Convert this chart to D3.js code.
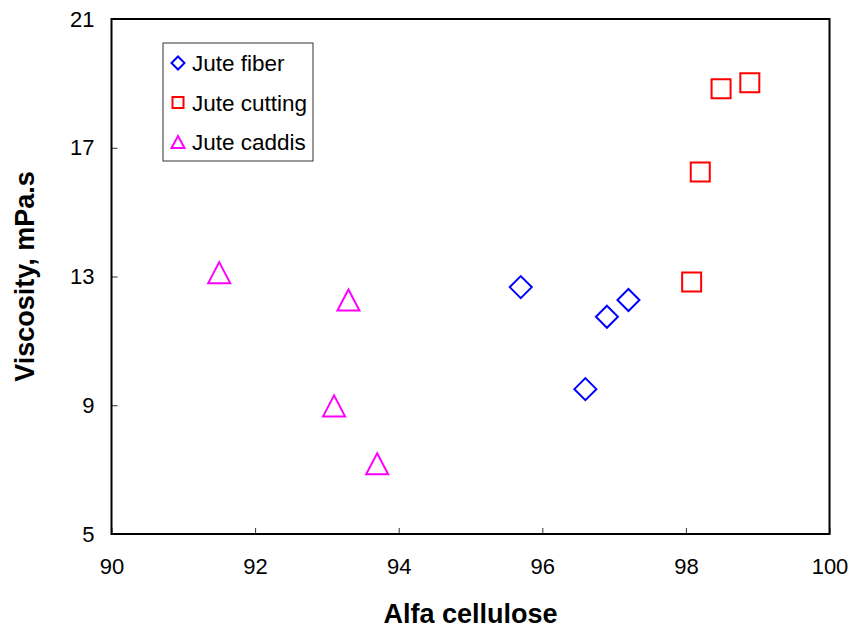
<!DOCTYPE html>
<html>
<head>
<meta charset="utf-8">
<script src="https://cdn.jsdelivr.net/npm/d3@7"></script>
<style>
  body { margin: 0; background: #fff; }
  text { font-family: "Liberation Sans", Arial, sans-serif; }
</style>
</head>
<body>
<div id="chart"></div>
<script>
// series data
var fiberX = [95.7, 96.6, 96.9, 97.2];
var fiberY = [12.67, 9.5, 11.75, 12.27];
var cuttingX = [98.08, 98.2, 98.49, 98.89];
var cuttingY = [12.83, 16.25, 18.83, 19.02];
var caddisX = [91.5, 93.1, 93.3, 93.7];
var caddisY = [13.12, 8.98, 12.27, 7.18];

var xTicks = [90, 92, 94, 96, 98, 100];
var yTicks = [5, 9, 13, 17, 21];

var seriesNames = ["Jute fiber", "Jute cutting", "Jute caddis"];

var W = 854, H = 631;
var margin = {top: 19, right: 24.5, bottom: 97, left: 111.5};
var width = W - margin.left - margin.right,
	height = H - margin.top - margin.bottom;

var svg = d3.select("#chart").append("svg")
	.attr("width", W)
	.attr("height", H);

var g = svg.append("g")
	.attr("transform", "translate(" + margin.left + "," + margin.top + ")");

var xScale = d3.scaleLinear().domain([90, 100]).range([0, width]);
var yScale = d3.scaleLinear().domain([5, 21]).range([height, 0]);

// marker paths, centred on 0,0
function diamond(r) {
	return "M0," + (-r) + "L" + r + ",0L0," + r + "L" + (-r) + ",0Z";
}
function square(s) {
	return "M" + (-s) + "," + (-s) + "H" + s + "V" + s + "H" + (-s) + "Z";
}
function triangle(w, h) {
	return "M0," + (-h / 2) + "L" + (w / 2) + "," + (h / 2) + "L" + (-w / 2) + "," + (h / 2) + "Z";
}

var series = [
	{ name: seriesNames[0], xs: fiberX, ys: fiberY, color: "#0000ff", path: diamond(11), legendPath: diamond(6.5) },
	{ name: seriesNames[1], xs: cuttingX, ys: cuttingY, color: "#ff0000", path: square(9.5), legendPath: square(5.5) },
	{ name: seriesNames[2], xs: caddisX, ys: caddisY, color: "#ff00ff", path: triangle(22, 21), legendPath: triangle(13, 12) }
];

// axes
var xAxis = d3.axisBottom(xScale).tickValues(xTicks).tickSizeInner(-6).tickSizeOuter(0).tickPadding(24);
var yAxis = d3.axisLeft(yScale).tickValues(yTicks).tickSizeInner(-6).tickSizeOuter(0).tickPadding(17);

var gx = g.append("g")
	.attr("transform", "translate(0," + height + ")")
	.call(xAxis);
var gy = g.append("g").call(yAxis);

[gx, gy].forEach(function (ax) {
	ax.select(".domain").remove();
	ax.selectAll(".tick line").attr("stroke", "#333").attr("stroke-width", 1);
	ax.selectAll(".tick text")
		.attr("fill", "#000")
		.style("font-size", "22px")
		.style("font-family", "'Liberation Sans', Arial, sans-serif");
});

// frame
g.append("rect")
	.attr("x", 0).attr("y", 0)
	.attr("width", width).attr("height", height)
	.attr("fill", "none")
	.attr("stroke", "#000")
	.attr("stroke-width", 2);

// points
series.forEach(function (s) {
	g.selectAll(null)
		.data(s.xs.map(function (x, i) { return {x: x, y: s.ys[i]}; }))
		.enter()
		.append("path")
		.attr("d", s.path)
		.attr("transform", function (d) {
			return "translate(" + xScale(d.x) + "," + yScale(d.y) + ")";
		})
		.attr("fill", "none")
		.attr("stroke", s.color)
		.attr("stroke-width", 2);
});

// legend
var legend = svg.append("g").attr("transform", "translate(163,43)");
legend.append("rect")
	.attr("width", 150).attr("height", 118)
	.attr("fill", "#fff")
	.attr("stroke", "#333")
	.attr("stroke-width", 1);

series.forEach(function (s, i) {
	var row = legend.append("g").attr("transform", "translate(15," + (20 + i * 39.5) + ")");
	row.append("path")
		.attr("d", s.legendPath)
		.attr("fill", "none")
		.attr("stroke", s.color)
		.attr("stroke-width", 2);
	row.append("text")
		.attr("x", 14)
		.attr("y", 8)
		.style("font-size", "22.5px")
		.text(s.name);
});

// axis titles
svg.append("text")
	.attr("x", margin.left + width / 2)
	.attr("y", 623)
	.attr("text-anchor", "middle")
	.style("font-size", "27px")
	.style("font-weight", "bold")
	.text("Alfa cellulose");

svg.append("text")
	.attr("transform", "translate(34," + (margin.top + height / 2) + ") rotate(-90)")
	.attr("text-anchor", "middle")
	.style("font-size", "27px")
	.style("font-weight", "bold")
	.text("Viscosity, mPa.s");
</script>
</body>
</html>
